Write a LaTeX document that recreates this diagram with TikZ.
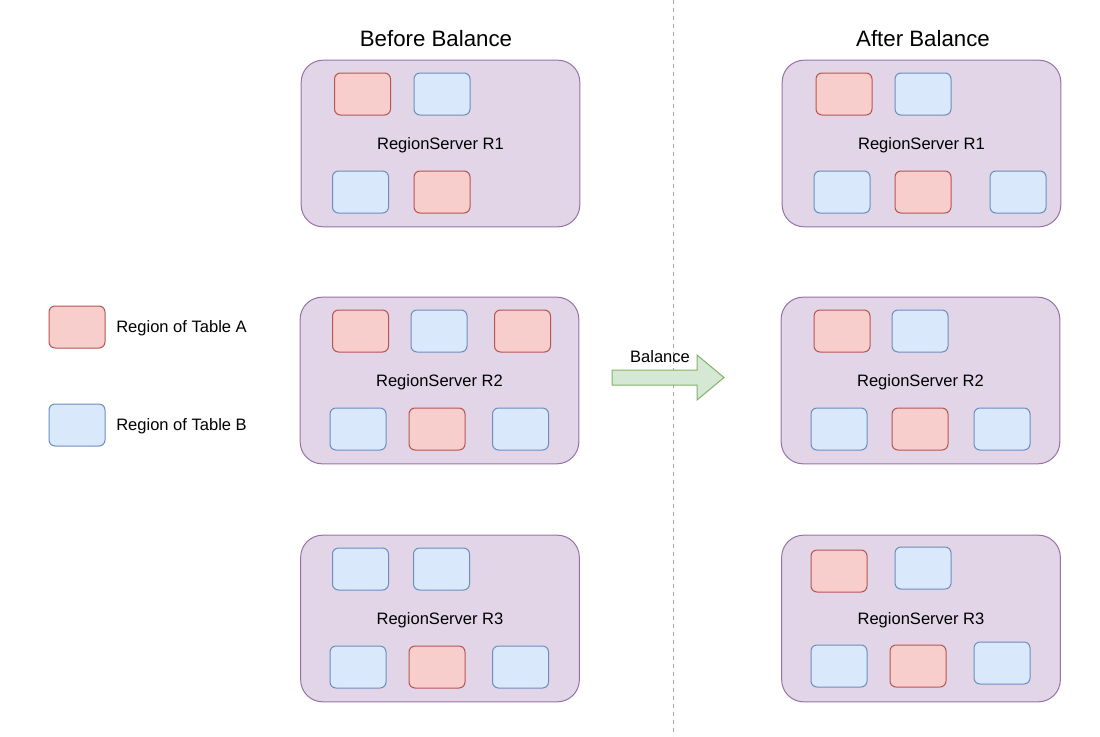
\documentclass[tikz,border=0pt]{standalone}
\usepackage{fontspec}
\setmainfont{Liberation Sans}
\definecolor{redfill}{HTML}{F8CECC}
\definecolor{redline}{HTML}{B85450}
\definecolor{bluefill}{HTML}{DAE8FC}
\definecolor{blueline}{HTML}{6C8EBF}
\definecolor{purpfill}{HTML}{E1D5E7}
\definecolor{purpline}{HTML}{9673A6}
\definecolor{grnfill}{HTML}{D5E8D4}
\definecolor{grnline}{HTML}{82B366}
\tikzset{
  server/.style={draw=purpline, fill=purpfill, line width=0.75pt, rounded corners=16.5pt,
    minimum width=209pt, minimum height=125pt, inner sep=0pt, text depth=0pt,
    font=\fontsize{12.4}{14}\selectfont},
  rega/.style={draw=redline, fill=redfill, line width=0.75pt, rounded corners=4.5pt,
    minimum width=42pt, minimum height=31.5pt, inner sep=0pt},
  regb/.style={draw=blueline, fill=bluefill, line width=0.75pt, rounded corners=4.5pt,
    minimum width=42pt, minimum height=31.5pt, inner sep=0pt},
  lbl/.style={font=\fontsize{12.4}{14}\selectfont, inner sep=0pt, text depth=0pt},
  ttl/.style={font=\fontsize{16.7}{19}\selectfont, inner sep=0pt},
}
\begin{document}
\begin{tikzpicture}[x=0.75pt, y=-0.75pt]
\useasboundingbox (0,0) rectangle (1100,736);
\fill[white] (0,0) rectangle (1100,736);
% divider
\draw[gray!70, line width=0.6pt, dash pattern=on 3pt off 3pt] (673,0) -- (673,736);
% titles
\node[ttl] (tbefore) at (436,39) {Before Balance};
\node[ttl] (tafter) at (923,39) {After Balance};
% legend
\node[rega] (lega) at (77,327) {};
\node[lbl, anchor=west] (legat) at (116,327) {Region of Table A};
\node[regb] (legb) at (77,425) {};
\node[lbl, anchor=west] (legbt) at (116,425) {Region of Table B};
% Before R1
\node[server] (b1) at (440.5,143.5) {RegionServer R1};
\node[rega] (b1a) at (362.5,94) {};
\node[regb] (b1b) at (442,94) {};
\node[regb] (b1c) at (360.5,192) {};
\node[rega] (b1d) at (442,192) {};
% Before R2
\node[server] (b2) at (439.5,380.5) {RegionServer R2};
\node[rega] (b2a) at (360.5,331) {};
\node[regb] (b2b) at (439,331) {};
\node[rega] (b2c) at (522.5,331) {};
\node[regb] (b2d) at (358,429) {};
\node[rega] (b2e) at (437,429) {};
\node[regb] (b2f) at (520.5,429) {};
% Before R3
\node[server] (b3) at (440,618.5) {RegionServer R3};
\node[regb] (b3a) at (360.5,569) {};
\node[regb] (b3b) at (441.5,569) {};
\node[regb] (b3c) at (358,667) {};
\node[rega] (b3d) at (437,667) {};
\node[regb] (b3e) at (520.5,667) {};
% After R1
\node[server] (a1) at (921.5,143.5) {RegionServer R1};
\node[rega] (a1a) at (844,94) {};
\node[regb] (a1b) at (923,94) {};
\node[regb] (a1c) at (842,192) {};
\node[rega] (a1d) at (923,192) {};
\node[regb] (a1e) at (1018,192) {};
% After R2
\node[server] (a2) at (920.5,380.5) {RegionServer R2};
\node[rega] (a2a) at (842,331) {};
\node[regb] (a2b) at (920,331) {};
\node[regb] (a2c) at (839,429) {};
\node[rega] (a2d) at (920,429) {};
\node[regb] (a2e) at (1002,429) {};
% After R3
\node[server] (a3) at (921,618.5) {RegionServer R3};
\node[rega] (a3a) at (839,571) {};
\node[regb] (a3b) at (923,568) {};
\node[regb] (a3c) at (839,666) {};
\node[rega] (a3d) at (918,666) {};
\node[regb] (a3e) at (1002,663) {};
% Balance arrow
\draw[draw=grnline, fill=grnfill, line width=0.75pt, line join=miter]
  (612,370) -- (697,370) -- (697,355) -- (724,377.5) -- (697,400) -- (697,385) -- (612,385) -- cycle;
\node[lbl] (bal) at (660,357) {Balance};
\end{tikzpicture}
\end{document}
